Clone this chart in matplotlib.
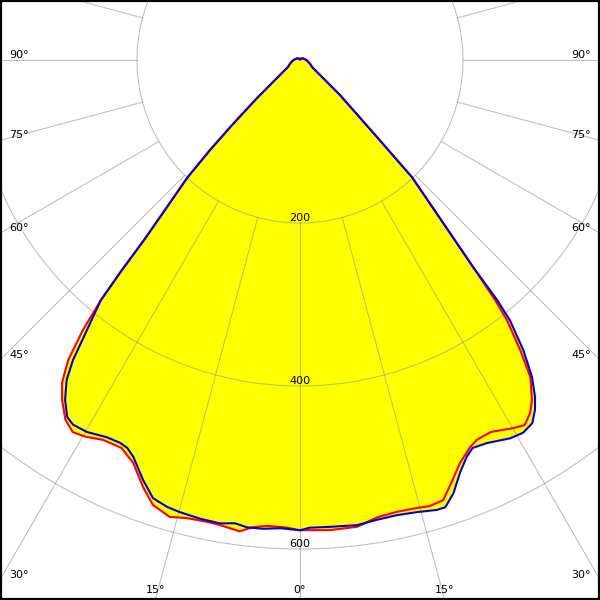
import numpy as np
import matplotlib
matplotlib.use("Agg")
import matplotlib.pyplot as plt
from matplotlib.patches import Rectangle

# Luminous intensity (cd); gamma = degrees from nadir.
# Upper flank and tip shared by all half-planes (read per side).
left_flank_gamma = [40.29, 40.91, 41.99, 43.76, 45.0, 46.3, 48.5, 53.1, 60, 70, 80, 90, 120, 150, 180]
left_flank_cd = [338, 292, 248, 200, 156, 114, 70, 31, 17, 13, 10, 8, 4, 2, 1]
right_flank_gamma = [39.9, 41.55, 43.7, 45.0, 48.8, 55, 60, 70, 78, 90, 120, 150, 180]
right_flank_cd = [331, 257, 199, 133, 65, 25, 17, 13, 10, 8, 4, 2, 1]

# C0-C180 plane (red)
red_left_gamma = [0, 1.6, 4.05, 5.7, 7.3, 9.8, 11.4, 13.9, 15.9, 18.3, 20.2, 22.5, 24.7,
                  27.4, 29.7, 31.4, 33.1, 35.0, 36.4, 37.7, 38.8, 39.66]
red_left_cd = [577, 574, 573, 576, 583, 579, 578, 579, 583, 575, 558, 535, 524,
               525, 532, 535, 527, 509, 492, 465, 425, 383]
red_right_gamma = [0, 1.2, 3.65, 7.0, 9.6, 12.1, 14.6, 16.2, 18.0, 20.0, 21.65, 23.7, 25.0,
                   27.2, 30.1, 31.6, 33.1, 34.3, 36.0, 37.2, 38.5, 39.1]
red_right_cd = [577, 577, 578, 577, 569, 567, 568, 570, 568, 548, 532, 519, 514,
                513, 522, 526, 517, 505, 481, 447, 408, 380]

# C90-C270 plane (blue)
blue_left_gamma = [0, 2.4, 4.5, 6.5, 8.0, 9.8, 12.3, 14.9, 16.6, 18.55, 20.5, 22.8, 24.0,
                   25.2, 27.1, 29.8, 31.9, 33.1, 34.65, 36.1, 37.1, 38.27, 39.66]
blue_left_cd = [577, 575, 577, 577, 574, 577, 576, 574, 572, 567, 550, 528, 521,
                519, 520, 526, 527, 523, 507, 486, 462, 422, 383]
blue_right_gamma = [0, 1.2, 3.7, 7.0, 9.5, 12.0, 14.5, 16.9, 18.0, 19.5, 21.2, 22.8, 24.0,
                    26.0, 29.05, 30.9, 32.6, 33.9, 34.9, 36.2, 37.6, 38.9, 39.4]
blue_right_cd = [577, 574, 574, 575, 572, 571, 573, 577, 577, 564, 543, 528, 521,
                 523, 531, 533, 529, 517, 504, 482, 449, 410, 381]

ring_values = [200, 400, 600]
ring_labels = ["200", "400", "600"]
side_angles = [90, 75, 60, 45, 30]
bottom_angles = [15, 0, 15]

W = H = 600
fig = plt.figure(figsize=(6, 6), dpi=100)
fig.patch.set_facecolor("white")

# polar axes: centre at pixel (300, 60) from top, 163 px per 200 cd
rmax = 800
rad_px = rmax * 163 / 200
cx, cy = 300, 540  # from bottom-left
ax = fig.add_axes([(cx - rad_px) / W, (cy - rad_px) / H, 2 * rad_px / W, 2 * rad_px / H],
                  projection="polar")
ax.set_theta_zero_location("S")
ax.set_ylim(0, rmax)
ax.set_axis_off()


def full_curve(lg, lc, rg, rc):
    lg = np.concatenate([lg, left_flank_gamma])
    lc = np.concatenate([lc, left_flank_cd])
    rg = np.concatenate([rg, right_flank_gamma])
    rc = np.concatenate([rc, right_flank_cd])
    th = np.concatenate([-lg[::-1], rg[1:]])
    r = np.concatenate([lc[::-1], rc[1:]])
    return np.deg2rad(th), r


th_r, r_r = full_curve(red_left_gamma, red_left_cd, red_right_gamma, red_right_cd)
th_b, r_b = full_curve(blue_left_gamma, blue_left_cd, blue_right_gamma, blue_right_cd)

ax.fill(th_r, r_r, color="#ffff00", lw=0, zorder=1)
ax.fill(th_b, r_b, color="#ffff00", lw=0, zorder=1)

# grid
grid_kw = dict(color="#9a9a9a", alpha=0.65, lw=0.75, zorder=2)
tt = np.linspace(0, 2 * np.pi, 721)
for rv in ring_values:
    ax.plot(tt, np.full_like(tt, rv), **grid_kw)
for d in range(0, 360, 15):
    ax.plot([np.deg2rad(d)] * 2, [200, rmax], **grid_kw)

ax.plot(th_r, r_r, color="#ff0000", lw=1.5, zorder=3)
ax.plot(th_b, r_b, color="#0000dd", lw=1.5, zorder=4)

fs = 8


def ftext(x, y_top, s, ha="left"):
    fig.text(x / W, 1 - y_top / H, s, ha=ha, va="baseline", fontsize=fs, color="black")


for rv, lab in zip(ring_values, ring_labels):
    ftext(300, 60 + rv * 163 / 200 - 2, lab, ha="center")

for a in side_angles:
    y_edge = 60 + 300 / np.tan(np.deg2rad(a)) if a != 90 else 60
    ftext(9, y_edge - 2, f"{a}°", ha="left")
    ftext(591, y_edge - 2, f"{a}°", ha="right")

for a, sgn in zip(bottom_angles, [-1, 0, 1]):
    x_edge = 300 + sgn * 540 * np.tan(np.deg2rad(a))
    ftext(x_edge, 593, f"{a}°", ha="center")

fig.patches.append(Rectangle((0, 0), 1, 1, transform=fig.transFigure, fill=False,
                             edgecolor="black", lw=3, zorder=10))

fig.savefig("out.png", dpi=100)
